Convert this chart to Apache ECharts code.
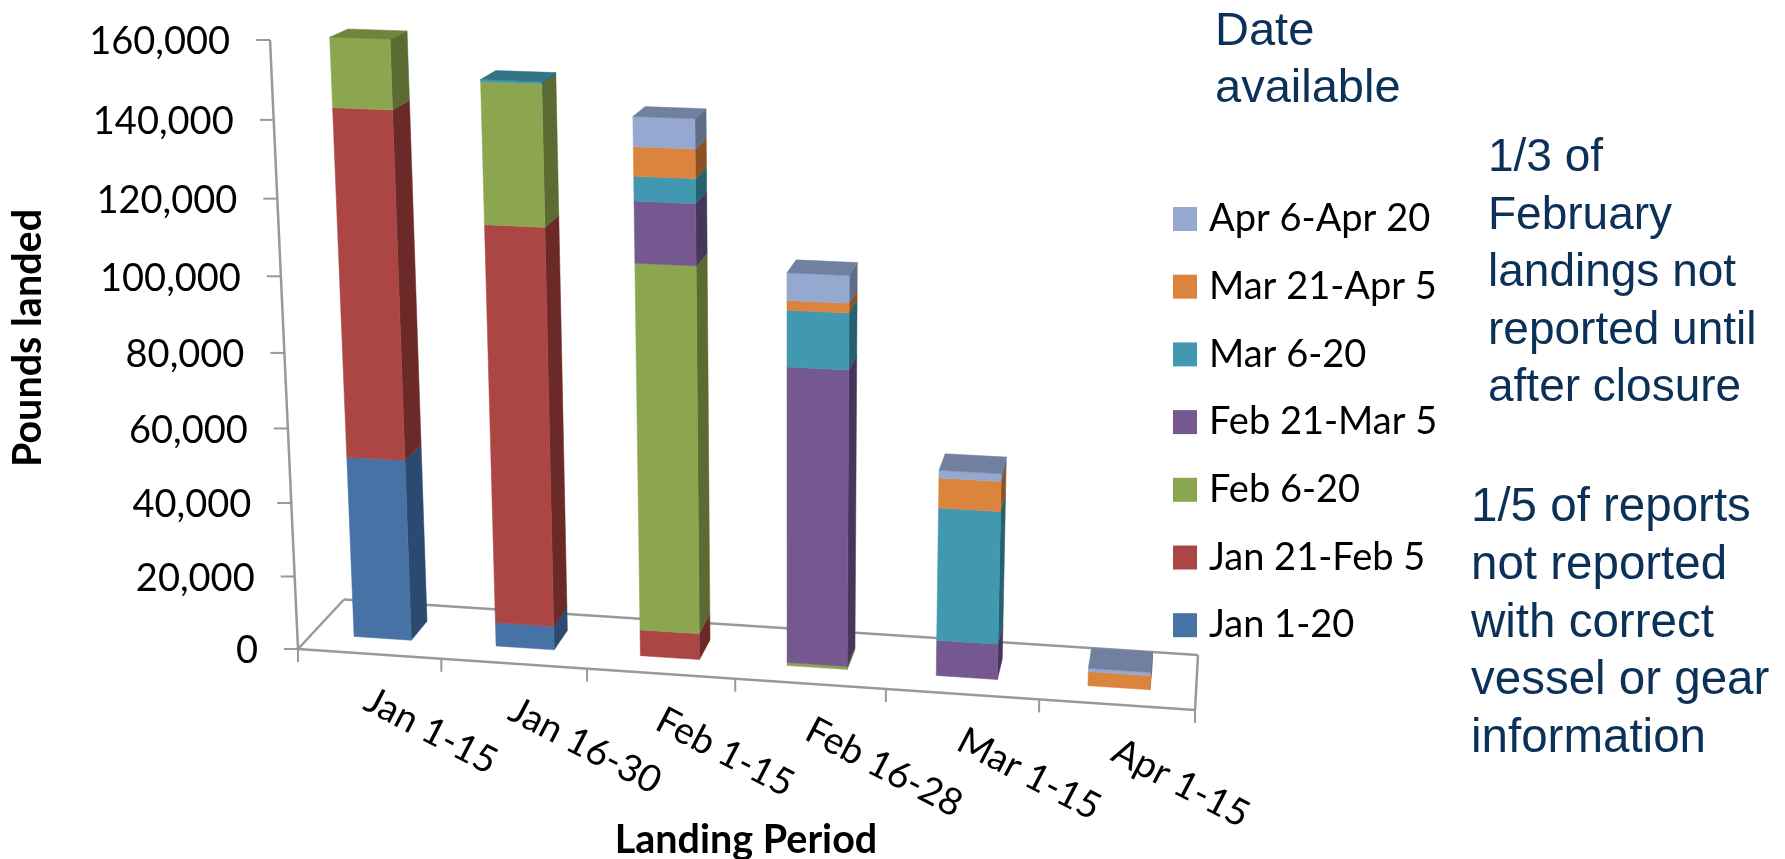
<!DOCTYPE html>
<html>
<head>
<meta charset="utf-8">
<title>Pounds landed by landing period</title>
<script src="https://cdn.jsdelivr.net/npm/echarts@6/dist/echarts.min.js"></script>
<style>
html, body { margin: 0; padding: 0; background: #fff; }
#main { width: 1785px; height: 859px; }
</style>
</head>
<body>
<div id="main"></div>
<script>
// data
var categories = ['Jan 1-15', 'Jan 16-30', 'Feb 1-15', 'Feb 16-28', 'Mar 1-15', 'Apr 1-15'];
var seriesNames = ['Jan 1-20', 'Jan 21-Feb 5', 'Feb 6-20', 'Feb 21-Mar 5', 'Mar 6-20', 'Mar 21-Apr 5', 'Apr 6-Apr 20'];
var jan1to20 = [49500, 6500, 0, 0, 0, 0];
var jan21toFeb5 = [92000, 106500, 7100, 0, 0, 0];
var feb6to20 = [17900, 36500, 97700, 800, 0, 0];
var feb21toMar5 = [0, 0, 15900, 79000, 9600, 0];
var mar6to20 = [0, 500, 6300, 14700, 35400, 0];
var mar21toApr5 = [0, 0, 7500, 2500, 7900, 3800];
var apr6to20 = [0, 0, 7600, 7100, 2000, 900];
var yTicks = [0, 20000, 40000, 60000, 80000, 100000, 120000, 140000, 160000];
var dateNote = ['Date', 'available'];
var februaryNote = ['1/3 of', 'February', 'landings not', 'reported until', 'after closure'];
var reportsNote = ['1/5 of reports', 'not reported', 'with correct', 'vessel or gear', 'information'];

var allValues = [jan1to20, jan21toFeb5, feb6to20, feb21toMar5, mar6to20, mar21toApr5, apr6to20];
var frontColors = ['#4672a6', '#ab4644', '#8ba64f', '#74588f', '#4198b0', '#db843d', '#95a9d0'];
var sideColors = ['#2c4a70', '#6b2a28', '#5b6b31', '#46365c', '#27606f', '#8b5225', '#5f6e87'];
var topColors = ['#3a5f8a', '#8a3836', '#6f843d', '#5e4876', '#337386', '#b56d32', '#71809f'];

var axisGray = '#999999';
var labelFont = 'Lato';
var noteColor = '#0c3158';

// hidden grid, the perspective below starts from what its scales give
var gridBox = { left: 298, top: 40, width: 897, height: 609 };

// floor corners on screen and where the uprights converge
var floorFL = [298, 649], floorFR = [1195, 710], floorBR = [1198, 655], floorBL = [344, 599.5];
var axisTop = [269, 40];
var upVanish = [790, 11360];
var barFront = 0.30, barBack = 0.68, barShare = 0.405, barShift = 0;

var H = (function () {
    var x0 = floorFL[0], y0 = floorFL[1], x1 = floorFR[0], y1 = floorFR[1];
    var x2 = floorBR[0], y2 = floorBR[1], x3 = floorBL[0], y3 = floorBL[1];
    var dx1 = x1 - x2, dx2 = x3 - x2, sx = x0 - x1 + x2 - x3;
    var dy1 = y1 - y2, dy2 = y3 - y2, sy = y0 - y1 + y2 - y3;
    var den = dx1 * dy2 - dx2 * dy1;
    var g = (sx * dy2 - dx2 * sy) / den;
    var h = (dx1 * sy - sx * dy1) / den;
    return {
        a: x1 - x0 + g * x1, b: x3 - x0 + h * x3, c: x0,
        d: y1 - y0 + g * y1, e: y3 - y0 + h * y3, f: y0,
        g: g, h: h
    };
})();
var upScale = (axisTop[1] - floorFL[1]) / (upVanish[1] - axisTop[1]);

// grid pixel plus a depth (0 front, 1 back) -> screen pixel
function project(px, depth) {
    var s = (px[0] - gridBox.left) / gridBox.width;
    var up = (gridBox.top + gridBox.height - px[1]) / gridBox.height;
    var t = depth;
    var k = up * upScale;
    var w = H.g * s + H.h * t + 1 + k;
    return [
        (H.a * s + H.b * t + H.c + k * upVanish[0]) / w,
        (H.d * s + H.e * t + H.f + k * upVanish[1]) / w
    ];
}

function poly(points, color) {
    return {
        type: 'polygon',
        shape: { points: points },
        style: { fill: color, stroke: color, lineWidth: 0.5 }
    };
}

function line(a, b, width) {
    return {
        type: 'line',
        shape: { x1: a[0], y1: a[1], x2: b[0], y2: b[1] },
        style: { stroke: axisGray, lineWidth: width || 2.5 }
    };
}

// one segment of a stacked column as a box
function renderSegment(seriesIdx) {
    return function (params, api) {
        var cat = api.value(0), low = api.value(1), high = api.value(2), isTop = api.value(3);
        if (high <= low) return null;
        var band = api.size([1, 0])[0];
        var half = band * barShare / 2, shift = band * barShift;
        var lowPx = api.coord([cat, low]), highPx = api.coord([cat, high]);
        var lb = [lowPx[0] + shift - half, lowPx[1]], rb = [lowPx[0] + shift + half, lowPx[1]];
        var lt = [highPx[0] + shift - half, highPx[1]], rt = [highPx[0] + shift + half, highPx[1]];
        var kids = [
            poly([project(rb, barFront), project(rb, barBack), project(rt, barBack), project(rt, barFront)], sideColors[seriesIdx]),
            poly([project(lb, barFront), project(rb, barFront), project(rt, barFront), project(lt, barFront)], frontColors[seriesIdx])
        ];
        if (isTop) {
            kids.push(poly([project(lt, barFront), project(rt, barFront), project(rt, barBack), project(lt, barBack)], topColors[seriesIdx]));
        }
        return { type: 'group', children: kids };
    };
}

function renderYTick(params, api) {
    var val = api.value(0);
    var x = project([gridBox.left, api.coord([0, val])[1]], 0);
    return {
        type: 'group',
        children: [
            line([x[0] - 14, x[1]], x, 2),
            {
                type: 'text',
                x: x[0] - 40, y: x[1] + 2,
                style: {
                    text: val.toLocaleString('en-US'),
                    font: '38px ' + labelFont, fill: '#000',
                    align: 'right', verticalAlign: 'middle'
                }
            }
        ]
    };
}

function renderXTick(params, api) {
    var cat = api.value(0);
    var c = api.coord([cat, 0]);
    var band = api.size([1, 0])[0];
    var right = project([c[0] + band / 2, c[1]], 0);
    var mid = project(c, 0);
    var kids = [
        line(right, [right[0], right[1] + 13], 2),
        {
            type: 'text',
            x: mid[0] - 2, y: mid[1] + 44,
            rotation: -27.6 * Math.PI / 180,
            style: {
                text: categories[cat],
                font: '37.5px ' + labelFont, fill: '#000',
                align: 'left', verticalAlign: 'middle'
            }
        }
    ];
    if (cat === 0) {
        var left = project([c[0] - band / 2, c[1]], 0);
        kids.push(line(left, [left[0], left[1] + 13], 2));
    }
    return { type: 'group', children: kids };
}

function renderFrame(params, api) {
    var x0 = gridBox.left, x1 = gridBox.left + gridBox.width;
    var base = api.coord([0, 0])[1], top = api.coord([0, 160000])[1];
    var fl = project([x0, base], 0), fr = project([x1, base], 0);
    var br = project([x1, base], 1), bl = project([x0, base], 1);
    return {
        type: 'group',
        children: [
            line(fl, project([x0, top], 0)),
            line(fl, fr), line(fr, br), line(br, bl), line(bl, fl)
        ]
    };
}

// stack bottoms and tops per category
function buildStack(idx) {
    return categories.map(function (name, cat) {
        var low = 0, k;
        for (k = 0; k < idx; k++) low += allValues[k][cat];
        var high = low + allValues[idx][cat];
        var isTop = 1;
        for (k = idx + 1; k < allValues.length; k++) {
            if (allValues[k][cat] > 0) isTop = 0;
        }
        return [cat, low, high, isTop];
    });
}

var seriesList = [
    { type: 'custom', name: 'frame', silent: true, renderItem: renderFrame, data: [[0]], encode: { x: 0 } },
    { type: 'custom', name: 'yTicks', silent: true, renderItem: renderYTick, data: yTicks.map(function (v) { return [v]; }), encode: { y: 0 } },
    { type: 'custom', name: 'xTicks', silent: true, renderItem: renderXTick, data: categories.map(function (n, i) { return [i]; }), encode: { x: 0 } }
];
seriesNames.forEach(function (name, idx) {
    seriesList.push({
        type: 'custom',
        name: name,
        renderItem: renderSegment(idx),
        itemStyle: { color: frontColors[idx] },
        data: buildStack(idx),
        encode: { x: 0, y: [1, 2] }
    });
});

function noteBlock(lines, x, y, size) {
    return {
        type: 'text', left: x, top: y,
        style: {
            text: lines.join('\n'),
            font: size + 'px "Liberation Sans"',
            lineHeight: 57.6,
            fill: noteColor
        }
    };
}

function axisName(text, x, y, rot) {
    return {
        type: 'text', x: x, y: y, rotation: rot,
        style: {
            text: text, font: 'bold 39.5px ' + labelFont, fill: '#000',
            align: 'center', verticalAlign: 'middle'
        }
    };
}

var chart = echarts.init(document.getElementById('main'));
chart.setOption({
    animation: false,
    backgroundColor: '#fff',
    grid: gridBox,
    xAxis: { type: 'category', data: categories, show: false },
    yAxis: { type: 'value', min: 0, max: 160000, interval: 20000, show: false },
    legend: {
        orient: 'vertical',
        left: 1168, top: 195,
        icon: 'rect',
        itemWidth: 24, itemHeight: 24, itemGap: 29.7,
        selectedMode: false,
        data: seriesNames.slice().reverse(),
        textStyle: { fontFamily: labelFont, fontSize: 38, color: '#000', padding: [0, 0, 0, 7] }
    },
    graphic: [
        axisName('Pounds landed', 28, 338, Math.PI / 2),
        axisName('Landing Period', 746, 840, 0),
        noteBlock(dateNote, 1215, 3, 47),
        noteBlock(februaryNote, 1488, 129.5, 46),
        noteBlock(reportsNote, 1471, 479.5, 47.5)
    ],
    series: seriesList
});
</script>
</body>
</html>
